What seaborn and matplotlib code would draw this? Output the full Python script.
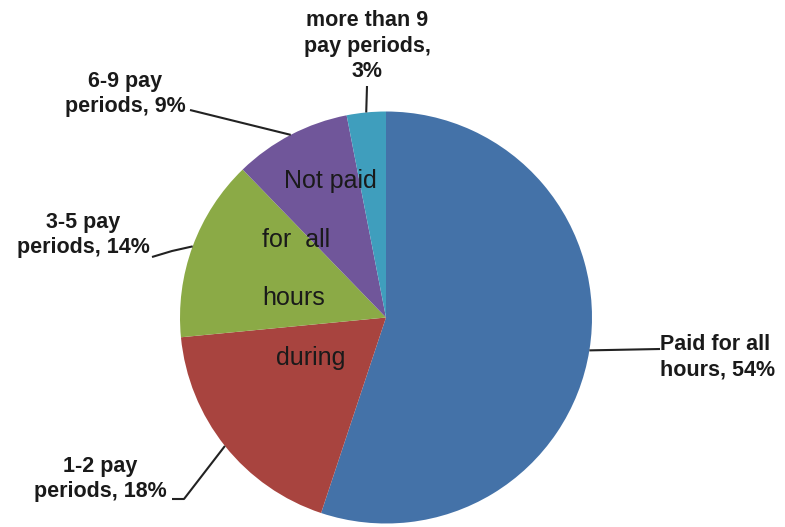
import numpy as np
import matplotlib
matplotlib.use("Agg")
import matplotlib.pyplot as plt
import seaborn as sns

categories = ["Paid for all\nhours, 54%", "1-2 pay\nperiods, 18%", "3-5 pay\nperiods, 14%",
              "6-9 pay\nperiods, 9%", "more than 9\npay periods,\n3%"]
values = [54, 18, 14, 9, 3]
colors = ["#4472A8", "#A8443F", "#8BAA46", "#70569A", "#3F9EBD"]
center_words = ["Not paid", "for  all", "hours", "during"]

sns.set_theme(style="white")
plt.rcParams["font.family"] = ["Liberation Sans", "DejaVu Sans"]

W, H, DPI = 785, 527, 100
fig = plt.figure(figsize=(W / DPI, H / DPI), dpi=DPI)
fig.patch.set_facecolor("white")

CX, CY, R = 386, 317.5, 206
ax = fig.add_axes([(CX - R) / W, (H - CY - R) / H, 2 * R / W, 2 * R / H])

pal = sns.color_palette(colors)
wedges, _ = ax.pie(values, colors=pal, startangle=90, counterclock=False,
                   radius=1, wedgeprops=dict(linewidth=0, edgecolor="none"))
ax.set_xlim(-1, 1)
ax.set_ylim(-1, 1)
ax.set_aspect("equal")
ax.axis("off")


def pd(px, py):
    return (px - CX) / R, (CY - py) / R


# anchor points at wedge mid-angles (from data)
anchors = []
for w in wedges:
    ang = np.deg2rad((w.theta1 + w.theta2) / 2)
    anchors.append((np.cos(ang), np.sin(ang)))

layout = [
    dict(pos=(660, 357), ha="left", path=[(660, 349)]),
    dict(pos=(100, 479), ha="center", path=[(172, 499), (184, 499)]),
    dict(pos=(83, 235), ha="center", path=[(152, 257), (172, 251)]),
    dict(pos=(125, 94), ha="center", path=[(190, 110)]),
    dict(pos=(367, 46), ha="center", path=[(367, 86)]),
]

for lab, lay, anc in zip(categories, layout, anchors):
    tx, ty = pd(*lay["pos"])
    ax.text(tx, ty, lab, ha=lay["ha"], va="center", fontsize=15.5, fontweight="bold",
            color="#1a1a1a", linespacing=1.28, clip_on=False)
    pts = [pd(*p) for p in lay["path"]] + [anc]
    xs, ys = zip(*pts)
    ax.plot(xs, ys, color="#222222", lw=1.5, clip_on=False, solid_capstyle="butt")

center_pos = [(330, 181), (296, 240), (294, 298), (311, 358)]
for word, (px, py) in zip(center_words, center_pos):
    x, y = pd(px, py)
    ax.text(x, y, word, ha="center", va="center", fontsize=18, color="#1a1a1a")

fig.savefig("out.png", dpi=DPI, facecolor="white")
